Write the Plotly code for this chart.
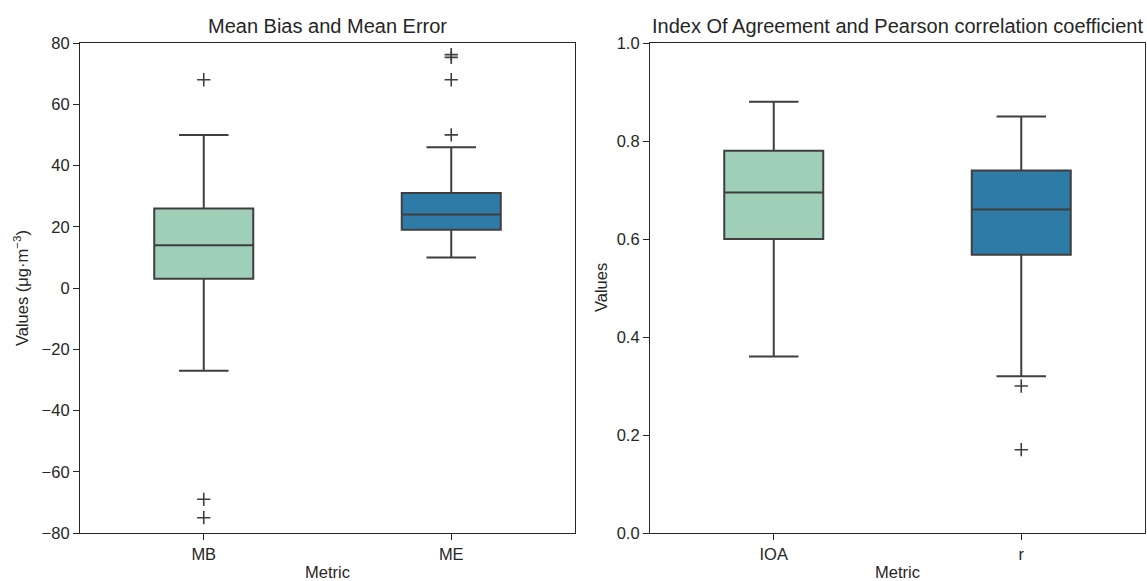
import plotly.graph_objects as go

# ---- data ----
left_categories = ["MB", "ME"]
left_q1 = [3, 19]
left_median = [14, 24]
left_q3 = [26, 31]
left_lower = [-27, 10]
left_upper = [50, 46]
mb_outliers = [68, -69, -75]
me_outliers = [50, 68, 75.3, 76.2]

right_categories = ["IOA", "r"]
right_q1 = [0.60, 0.568]
right_median = [0.695, 0.66]
right_q3 = [0.78, 0.74]
right_lower = [0.36, 0.32]
right_upper = [0.88, 0.85]
ioa_outliers = []
r_outliers = [0.30, 0.17]

left_ticks = [-80, -60, -40, -20, 0, 20, 40, 60, 80]
right_ticks = [0.0, 0.2, 0.4, 0.6, 0.8, 1.0]

colors = ["#9fcfb9", "#2f7ba7"]
edge = "#3f3f3f"
txt = "#262626"
FONT = "Liberation Sans, Arial, sans-serif"

W, H = 1147, 581
fig = go.Figure()

def add_boxes(cats, q1, med, q3, lo, hi, outs, xa, ya):
    for i, c in enumerate(cats):
        fig.add_trace(go.Box(
            x=[c], q1=[q1[i]], median=[med[i]], q3=[q3[i]],
            lowerfence=[lo[i]], upperfence=[hi[i]],
            width=0.4, whiskerwidth=0.5,
            fillcolor=colors[i], line=dict(color=edge, width=2),
            xaxis=xa, yaxis=ya, showlegend=False, hoverinfo="skip",
        ))
        if outs[i]:
            fig.add_trace(go.Scatter(
                x=[c] * len(outs[i]), y=outs[i], mode="markers",
                marker=dict(symbol="cross-thin", size=9.5,
                            line=dict(color=edge, width=1.6), color=edge),
                xaxis=xa, yaxis=ya, showlegend=False, hoverinfo="skip",
            ))

add_boxes(left_categories, left_q1, left_median, left_q3, left_lower, left_upper,
          [mb_outliers, me_outliers], "x", "y")
add_boxes(right_categories, right_q1, right_median, right_q3, right_lower, right_upper,
          [ioa_outliers, r_outliers], "x2", "y2")

ytop = 1 - 43 / H
ybot = 1 - 533 / H

axis_common = dict(
    showline=True, mirror=True, linecolor=txt, linewidth=1.2,
    ticks="outside", ticklen=6, tickwidth=1.2, tickcolor=txt,
    showgrid=False, zeroline=False,
    tickfont=dict(family=FONT, size=16.5, color=txt),
    automargin=False,
)

fig.update_layout(
    width=W, height=H,
    margin=dict(l=0, r=0, t=0, b=0),
    paper_bgcolor="white", plot_bgcolor="white",
    xaxis=dict(domain=[80 / W, 575 / W], anchor="y", type="category",
               categoryorder="array", categoryarray=left_categories,
               range=[-0.5, 1.5], **axis_common),
    yaxis=dict(domain=[ybot, ytop], anchor="x", range=[-80, 80],
               tickvals=left_ticks, **axis_common),
    xaxis2=dict(domain=[650 / W, 1145 / W], anchor="y2", type="category",
                categoryorder="array", categoryarray=right_categories,
                range=[-0.5, 1.5], **axis_common),
    yaxis2=dict(domain=[ybot, ytop], anchor="x2", range=[0, 1],
                tickvals=right_ticks, ticktext=[f"{v:.1f}" for v in right_ticks],
                **axis_common),
)

ann_font = dict(family=FONT, size=16.5, color=txt)
title_font = dict(family=FONT, size=20, color=txt)
fig.add_annotation(text="Mean Bias and Mean Error", x=(80 + 575) / 2 / W, y=1 - 26 / H,
                   xref="paper", yref="paper", showarrow=False, font=title_font,
                   xanchor="center", yanchor="middle")
fig.add_annotation(text="Index Of Agreement and Pearson correlation coefficient",
                   x=(650 + 1145) / 2 / W, y=1 - 26 / H,
                   xref="paper", yref="paper", showarrow=False, font=title_font,
                   xanchor="center", yanchor="middle")
fig.add_annotation(text="Metric", x=(80 + 575) / 2 / W, y=1 - 572 / H,
                   xref="paper", yref="paper", showarrow=False, font=ann_font,
                   xanchor="center", yanchor="middle")
fig.add_annotation(text="Metric", x=(650 + 1145) / 2 / W, y=1 - 572 / H,
                   xref="paper", yref="paper", showarrow=False, font=ann_font,
                   xanchor="center", yanchor="middle")
fig.add_annotation(text="Values (μg·m<sup>−3</sup>)", x=21 / W, y=(ytop + ybot) / 2,
                   xref="paper", yref="paper", showarrow=False, font=ann_font,
                   textangle=-90, xanchor="center", yanchor="middle")
fig.add_annotation(text="Values", x=601 / W, y=(ytop + ybot) / 2,
                   xref="paper", yref="paper", showarrow=False, font=ann_font,
                   textangle=-90, xanchor="center", yanchor="middle")

fig.write_html("out.html", config={"displayModeBar": False},
               post_script="document.body.style.margin='0px';")
